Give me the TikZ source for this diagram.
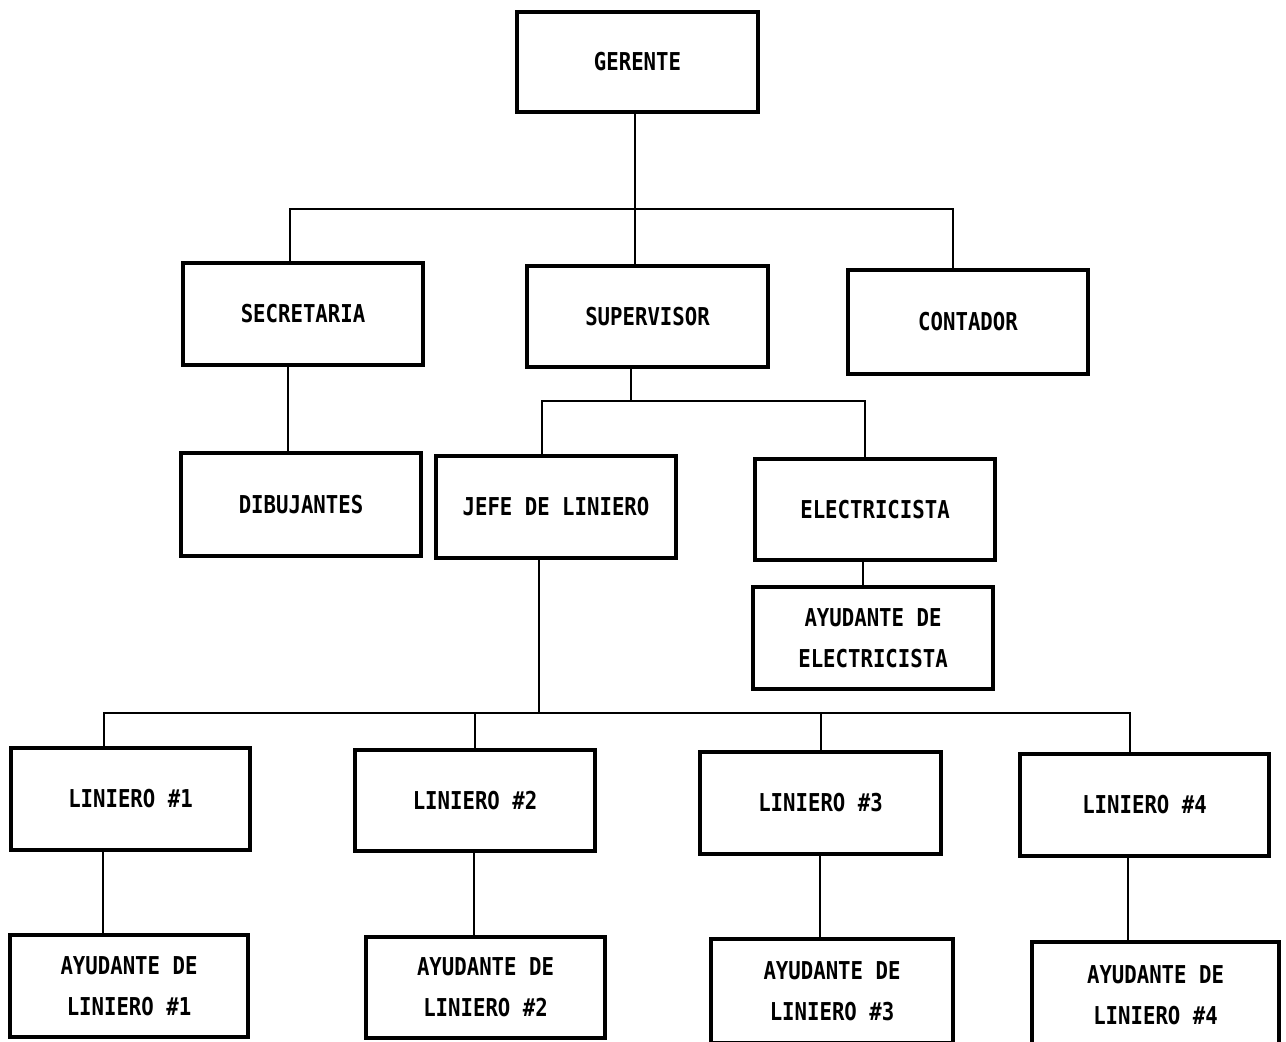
\documentclass[tikz,border=0pt]{standalone}
\usepackage{fontspec}
\newfontfamily\chartfont[FakeStretch=0.84]{DejaVu Sans Mono}
\begin{document}
\begin{tikzpicture}[x=0.01cm,y=-0.01cm,
  box/.style={draw=black, line width=1.15pt, rectangle, inner sep=0pt, align=center,
    font={\chartfont\bfseries\fontsize{7pt}{11.6pt}\selectfont}},
  sz/.style 2 args={minimum width=#1*0.01cm, minimum height=#2*0.01cm},
  conn/.style={draw=black, line width=0.5pt}]
\useasboundingbox[fill=white] (0,0) rectangle (1286,1041);
% boxes: centre, width, height in px
\node[box, sz={241}{100}] (ger) at (637.5,62) {GERENTE};
\node[box, sz={240}{102}] (sec) at (303,314) {SECRETARIA};
\node[box, sz={241}{101}] (sup) at (647.5,316.5) {SUPERVISOR};
\node[box, sz={240}{104}] (con) at (968,322) {CONTADOR};
\node[box, sz={240}{103}] (dib) at (301,504.5) {DIBUJANTES};
\node[box, sz={240}{102}] (jef) at (556,507) {JEFE DE LINIERO};
\node[box, sz={240}{101}] (ele) at (875,509.5) {ELECTRICISTA};
\node[box, sz={240}{102}] (aye) at (873,638) {AYUDANTE DE\\ELECTRICISTA};
\node[box, sz={239}{102}] (l1) at (130.5,799) {LINIERO \#1};
\node[box, sz={240}{101}] (l2) at (475,800.5) {LINIERO \#2};
\node[box, sz={241}{102}] (l3) at (820.5,803) {LINIERO \#3};
\node[box, sz={249}{102}] (l4) at (1144.5,805) {LINIERO \#4};
\node[box, sz={238}{102}] (a1) at (129,986) {AYUDANTE DE\\LINIERO \#1};
\node[box, sz={239}{101}] (a2) at (485.5,987.5) {AYUDANTE DE\\LINIERO \#2};
\node[box, sz={242}{104}] (a3) at (832,991) {AYUDANTE DE\\LINIERO \#3};
\node[box, sz={247}{106}] (a4) at (1155.5,995) {AYUDANTE DE\\LINIERO \#4};
% junction coordinates
\coordinate (j1) at (635,209);
\coordinate (b1w) at (290,209);
\coordinate (b1e) at (953,209);
\coordinate (v1) at (288,0);
\coordinate (j2) at (631,401);
\coordinate (b2w) at (542,401);
\coordinate (b2e) at (865,401);
\coordinate (v2) at (863,0);
\coordinate (j3) at (539,713);
\coordinate (b3a) at (104,713);
\coordinate (b3b) at (475,713);
\coordinate (b3c) at (821,713);
\coordinate (b3d) at (1130,713);
\coordinate (w1) at (103,0);
\coordinate (w2) at (474,0);
\coordinate (w3) at (820,0);
\coordinate (w4) at (1128,0);
% connectors
\draw[conn] (j1 |- ger.south) -- (j1 |- sup.north);
\draw[conn] (b1w |- sec.north) -- (b1w) -- (b1e) -- (b1e |- con.north);
\draw[conn] (v1 |- sec.south) -- (v1 |- dib.north);
\draw[conn] (j2 |- sup.south) -- (j2);
\draw[conn] (b2w |- jef.north) -- (b2w) -- (b2e) -- (b2e |- ele.north);
\draw[conn] (v2 |- ele.south) -- (v2 |- aye.north);
\draw[conn] (j3 |- jef.south) -- (j3);
\draw[conn] (b3a |- l1.north) -- (b3a) -- (b3d) -- (b3d |- l4.north);
\draw[conn] (b3b) -- (b3b |- l2.north);
\draw[conn] (b3c) -- (b3c |- l3.north);
\draw[conn] (w1 |- l1.south) -- (w1 |- a1.north);
\draw[conn] (w2 |- l2.south) -- (w2 |- a2.north);
\draw[conn] (w3 |- l3.south) -- (w3 |- a3.north);
\draw[conn] (w4 |- l4.south) -- (w4 |- a4.north);
\end{tikzpicture}
\end{document}
